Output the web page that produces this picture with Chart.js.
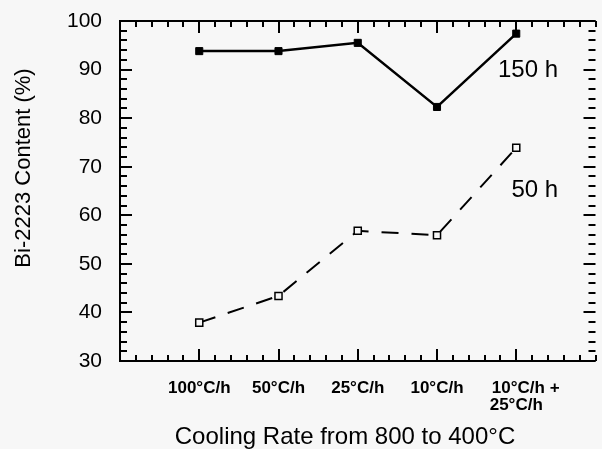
<!DOCTYPE html>
<html>
<head>
<meta charset="utf-8">
<script src="https://cdn.jsdelivr.net/npm/chart.js@4"></script>
<style>
  html, body { margin: 0; padding: 0; background: #f7f7f7; }
  #wrap { width: 602px; height: 449px; }
</style>
</head>
<body>
<div id="wrap"><canvas id="grafico" width="602" height="449"></canvas></div>
<script>
// datos
const categorias = ['100°C/h', '50°C/h', '25°C/h', '10°C/h', ['    10°C/h +', '25°C/h']];
const posiciones = [1, 2, 3, 4, 5];
const serie150h = [93.8, 93.8, 95.5, 82.3, 97.4];
const serie50h = [37.9, 43.4, 56.8, 55.9, 73.9];
const etiquetasSerie = ['150 h', '50 h'];
const etiquetaX = [4.77, 4.94];
const etiquetaY = [89.9, 65.2];
const yTicks = [30, 40, 50, 60, 70, 80, 90, 100];

const fuente = '"Liberation Sans", Arial, Helvetica, sans-serif';

function puntos(vals) {
  return vals.map((v, i) => ({ x: posiciones[i], y: v }));
}

// marco con marcas hacia adentro y textos
const marcoPlugin = {
  id: 'marco',
  afterDraw(chart) {
    const ctx = chart.ctx;
    const a = chart.chartArea;
    const sx = chart.scales.x;
    const sy = chart.scales.y;
    ctx.save();
    ctx.strokeStyle = '#000';
    ctx.lineWidth = 2;
    ctx.beginPath();
    ctx.moveTo(a.left, a.top); ctx.lineTo(a.right, a.top);
    ctx.moveTo(a.left, a.bottom); ctx.lineTo(a.right, a.bottom);
    ctx.moveTo(a.left, a.top - 1); ctx.lineTo(a.left, a.bottom + 1);
    ctx.stroke();

    ctx.beginPath();
    for (let v = 30; v <= 100; v += 2) {
      const y = Math.round(sy.getPixelForValue(v));
      const largo = v % 10 === 0 ? 12 : 7;
      ctx.moveTo(a.left, y); ctx.lineTo(a.left + largo, y);
      ctx.moveTo(a.right, y); ctx.lineTo(a.right - largo, y);
    }
    for (let k = 0; k <= 30; k++) {
      const t = k / 5;
      const x = Math.round(sx.getPixelForValue(t));
      const largo = (k % 5 === 0 && k > 0 && k < 30) ? 12 : 6;
      ctx.moveTo(x, a.top); ctx.lineTo(x, a.top + largo);
      ctx.moveTo(x, a.bottom); ctx.lineTo(x, a.bottom - largo);
    }
    ctx.stroke();

    ctx.fillStyle = '#000';
    ctx.font = '24px ' + fuente;
    ctx.textBaseline = 'middle';
    ctx.textAlign = 'left';
    etiquetasSerie.forEach((t, i) => {
      ctx.fillText(t, sx.getPixelForValue(etiquetaX[i]), sy.getPixelForValue(etiquetaY[i]));
    });

    // titulos de ejes
    ctx.textAlign = 'center';
    ctx.font = '24px ' + fuente;
    ctx.fillText('Cooling Rate from 800 to 400°C', 345, 437);
    ctx.translate(24, 168);
    ctx.rotate(-Math.PI / 2);
    ctx.font = '22px ' + fuente;
    ctx.fillText('Bi-2223 Content (%)', 0, 0);
    ctx.restore();
  }
};

function sinRelleno(scale) {
  scale.paddingTop = 0;
  scale.paddingBottom = 0;
  scale.paddingLeft = 0;
  scale.paddingRight = 0;
}

const ctx = document.getElementById('grafico').getContext('2d');
const myChart = new Chart(ctx, {
  type: 'line',
  data: {
    datasets: [
      {
        label: '150 h',
        data: puntos(serie150h),
        borderColor: '#000',
        backgroundColor: '#000',
        borderWidth: 2.5,
        pointStyle: 'rect',
        pointRadius: 5,
        pointBorderWidth: 1,
        fill: false,
      },
      {
        label: '50 h',
        data: puntos(serie50h),
        borderColor: '#000',
        backgroundColor: '#f7f7f7',
        borderWidth: 2,
        borderDash: [17, 13],
        pointStyle: 'rect',
        pointRadius: 5,
        pointBorderWidth: 1.5,
        fill: false,
      },
    ],
  },
  options: {
    responsive: false,
    animation: false,
    layout: { padding: { left: 13, top: 21, right: 0, bottom: 0 } },
    plugins: { legend: { display: false }, tooltip: { enabled: false } },
    scales: {
      x: {
        type: 'linear',
        min: 0,
        max: 6,
        grid: { display: false, drawTicks: false },
        border: { display: false },
        afterBuildTicks(scale) {
          scale.ticks = posiciones.map(p => ({ value: p }));
        },
        afterFit(scale) { scale.height = 88; sinRelleno(scale); },
        ticks: {
          padding: 19,
          color: '#000',
          maxRotation: 0,
          autoSkip: false,
          font: { family: fuente, size: 17, weight: 'bold', lineHeight: 1.0 },
          callback: (v) => categorias[posiciones.indexOf(v)],
        },
      },
      y: {
        min: 30,
        max: 100,
        grid: { display: false, drawTicks: false },
        border: { display: false },
        afterBuildTicks(scale) {
          scale.ticks = yTicks.map(v => ({ value: v }));
        },
        afterFit(scale) { scale.width = 107; sinRelleno(scale); },
        ticks: {
          padding: 18,
          color: '#000',
          font: { family: fuente, size: 21 },
        },
      },
    },
  },
  plugins: [marcoPlugin],
});
</script>
</body>
</html>
